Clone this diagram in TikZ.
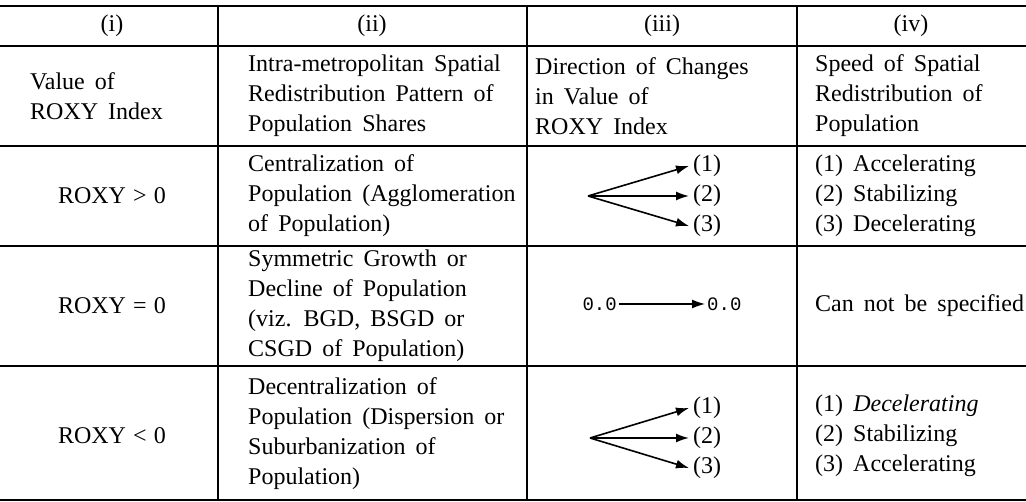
\documentclass[tikz,border=0pt]{standalone}
\usepackage{fontspec}
\setmainfont{Liberation Serif}
\newfontfamily\monofont{Liberation Mono}
\usetikzlibrary{arrows.meta}
\newcommand{\cellfnt}{\fontsize{24}{30}\selectfont\spaceskip=0.42em plus 0.1em minus 0.05em\relax}
\newcommand{\relfnt}{\fontsize{24}{30}\selectfont\spaceskip=0.3em\relax}
\begin{document}
\begin{tikzpicture}[x=1pt,y=-1pt,
  cell/.style={inner sep=0pt, font=\cellfnt, align=left, anchor=west},
  ctr/.style={inner sep=0pt, font=\cellfnt, align=center},
  rel/.style={inner sep=0pt, font=\relfnt},
  num/.style={inner sep=4pt, font=\cellfnt, anchor=west},
  zero/.style={inner sep=2pt, font=\monofont\fontsize{19}{22}\selectfont},
  hrule/.style={line width=2pt},
  vline/.style={line width=1.3pt},
  arr/.style={line width=1.6pt, -{Latex[length=13pt,width=9pt]}},
  arrz/.style={line width=1.3pt, -{Latex[length=13pt,width=9pt]}}
]
\useasboundingbox (0,0) rectangle (1026,502);
% rules
\draw[hrule, line width=2.4pt] (0,6) -- (1026,6);
\draw[hrule] (0,46) -- (1026,46);
\draw[hrule] (0,146) -- (1026,146);
\draw[hrule] (0,246) -- (1026,246);
\draw[hrule] (0,366) -- (1026,366);
\draw[hrule, line width=2.4pt] (0,500) -- (1026,500);
\draw[vline] (218,6) -- (218,500);
\draw[vline] (527,6) -- (527,500);
\draw[vline] (797,6) -- (797,500);
% header
\node[ctr] (h1) at (112,26) {(i)};
\node[ctr] (h2) at (372,26) {(ii)};
\node[ctr] (h3) at (662,26) {(iii)};
\node[ctr] (h4) at (911,26) {(iv)};
% row 1
\node[cell] (a1) at (30,96) {Value of\\ROXY Index};
\node[cell] (a2) at (248,96) {Intra-metropolitan Spatial\\Redistribution Pattern of\\Population Shares};
\node[cell] (a3) at (535,96) {Direction of Changes\\in Value of\\ROXY Index};
\node[cell] (a4) at (815,96) {Speed of Spatial\\Redistribution of\\Population};
% row 2
\node[rel] (b1) at (112,196) {ROXY > 0};
\node[cell] (b2) at (248,196) {Centralization of\\Population (Agglomeration\\of Population)};
\coordinate (bo) at (588,196);
\node[num] (b31) at (689,166) {(1)};
\node[num] (b32) at (689,196) {(2)};
\node[num] (b33) at (689,226) {(3)};
\draw[arr] (bo) -- (b31.west);
\draw[arr] (bo) -- (b32.west);
\draw[arr] (bo) -- (b33.west);
\node[cell] (b4) at (815,196) {(1) Accelerating\\(2) Stabilizing\\(3) Decelerating};
% row 3
\node[rel] (c1) at (112,306) {ROXY = 0};
\node[cell] (c2) at (248,306) {Symmetric Growth or\\Decline of Population\\(viz. BGD, BSGD or\\CSGD of Population)};
\node[zero, anchor=east] (c3a) at (619,304) {0.0};
\node[zero, anchor=west] (c3b) at (705,304) {0.0};
\draw[arrz] (c3a.east) -- (c3b.west);
\node[cell] (c4) at (815,306) {Can not be specified};
% row 4
\node[rel] (d1) at (112,436) {ROXY < 0};
\node[cell] (d2) at (248,434) {Decentralization of\\Population (Dispersion or\\Suburbanization of\\Population)};
\coordinate (do) at (590,438);
\node[num] (d31) at (689,408) {(1)};
\node[num] (d32) at (689,438) {(2)};
\node[num] (d33) at (689,468) {(3)};
\draw[arr] (do) -- (d31.west);
\draw[arr] (do) -- (d32.west);
\draw[arr] (do) -- (d33.west);
\node[cell] (d4) at (815,436) {(1) \textit{Decelerating}\\(2) Stabilizing\\(3) Accelerating};
\end{tikzpicture}
\end{document}
